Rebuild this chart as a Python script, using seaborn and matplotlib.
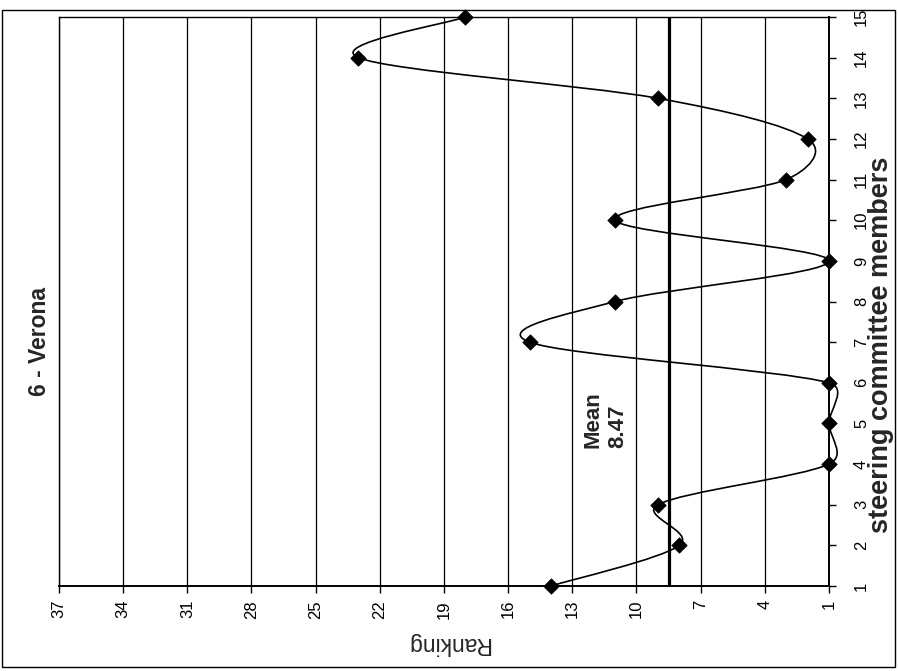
import numpy as np
import pandas as pd
import matplotlib
matplotlib.use("Agg")
import matplotlib.pyplot as plt
from matplotlib.path import Path
from matplotlib.patches import PathPatch, Rectangle
import seaborn as sns

# Ranking given by each steering committee member
members = list(range(1, 16))
ranking = [14, 8, 9, 1, 1, 1, 15, 11, 1, 11, 3, 2, 9, 23, 18]
mean_rank = 8.47
rank_ticks = [1, 4, 7, 10, 13, 16, 19, 22, 25, 28, 31, 34, 37]
title = "6 - Verona"
member_label = "steering committee members"
rank_label = "Ranking"
mean_label = "Mean\n8.47"

sns.set_theme(style="white")
plt.rcParams["font.family"] = ["Liberation Sans", "DejaVu Sans"]

W, H = 898, 671
fig = plt.figure(figsize=(W / 100, H / 100), dpi=100)
fig.patch.set_facecolor("white")
ax = fig.add_axes([59 / W, 1 - 586 / H, (829 - 59) / W, (586 - 17) / H])
ax.set_facecolor("white")
ax.set_xlim(37, 1)
ax.set_ylim(1, 15)

df = pd.DataFrame({"member": members, "ranking": ranking})


def smooth_path(xs, ys, axis):
    """Spreadsheet-style smoothed line: cubic Bezier segments whose control
    handles are 1/6 of the neighbour chord, capped at half the segment length
    (measured on screen)."""
    disp = axis.transData.transform(np.column_stack([xs, ys]).astype(float))
    ext = np.vstack([disp[0], disp, disp[-1]])
    verts = [disp[0]]
    codes = [Path.MOVETO]
    for i in range(len(disp) - 1):
        p0, p1, p2, p3 = ext[i], ext[i + 1], ext[i + 2], ext[i + 3]
        d12 = np.hypot(*(p2 - p1))
        d02 = np.hypot(*(p2 - p0))
        d13 = np.hypot(*(p3 - p1))
        f = 1 / 6 if d02 == 0 else min(1 / 6, d12 / (2 * d02))
        g = 1 / 6 if d13 == 0 else min(1 / 6, d12 / (2 * d13))
        verts += [p1 + (p2 - p0) * f, p2 - (p3 - p1) * g, p2]
        codes += [Path.CURVE4] * 3
    data_verts = axis.transData.inverted().transform(np.array(verts))
    return Path(data_verts, codes)


ax.add_patch(PathPatch(smooth_path(df["ranking"], df["member"], ax), fill=False,
                       lw=1.2, edgecolor="black", zorder=3, clip_on=False))

sns.scatterplot(data=df, x="ranking", y="member", marker="D", s=62,
                color="black", edgecolor="black", linewidth=0.5,
                zorder=4, ax=ax, legend=False, clip_on=False)

ax.axvline(mean_rank, color="black", lw=2.3, zorder=2)
ax.text(11.45, 4.4, mean_label, rotation=90, ha="center", va="bottom",
        multialignment="left", fontsize=16, fontweight="bold",
        linespacing=1.25, zorder=5)

ax.set_xlim(37, 1)
ax.set_ylim(1, 15)
ax.set_xticks(rank_ticks)
ax.set_xticklabels([str(t) for t in rank_ticks])
ax.set_yticks(members)
ax.set_yticklabels([str(m) for m in members])
ax.set_xlabel("")
ax.set_ylabel("")
ax.grid(axis="x", color="black", lw=0.9)
ax.grid(axis="y", visible=False)

for side in ["left", "right", "top", "bottom"]:
    ax.spines[side].set_visible(True)
    ax.spines[side].set_color("black")
    ax.spines[side].set_linewidth(1.0)
ax.spines["right"].set_linewidth(1.4)
ax.spines["bottom"].set_linewidth(1.4)

ax.yaxis.tick_right()
ax.tick_params(axis="y", which="major", right=True, left=False, direction="out",
               length=5, width=1, color="black", pad=13, labelsize=12,
               labelrotation=90, labelcolor="black")
for lab in ax.get_yticklabels():
    lab.set_va("center")
ax.tick_params(axis="x", which="major", bottom=True, direction="out",
               length=5, width=1, color="black", pad=5, labelsize=12,
               labelrotation=90, labelcolor="black")

fig.text(39 / W, 1 - 341 / H, title, rotation=90, ha="center", va="center",
         fontsize=16.5, fontweight="bold")
fig.text(881 / W, 1 - 345 / H, member_label, rotation=90, ha="center",
         va="center", fontsize=19.5, fontweight="bold")
fig.text(448 / W, 1 - 644 / H, rank_label, rotation=180, ha="center",
         va="center", fontsize=16.5)

fig.add_artist(Rectangle((2 / W, 1 - 667 / H), (895 - 2) / W, (667 - 10) / H,
                         transform=fig.transFigure, fill=False,
                         edgecolor="black", lw=1.0))

fig.savefig("out.png", dpi=100, facecolor="white")
